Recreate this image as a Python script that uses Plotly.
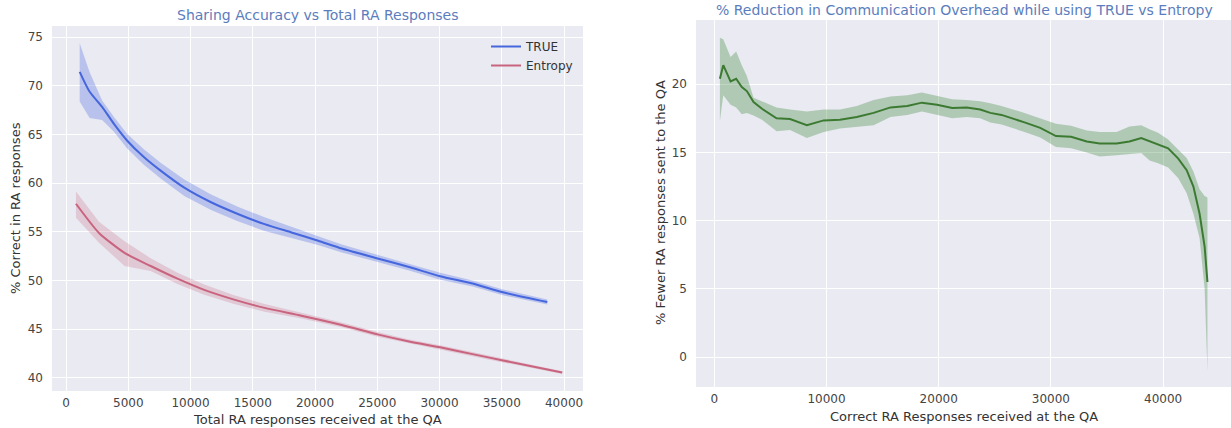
import plotly.graph_objects as go

# ---------------- Left chart data ----------------
true_x = [1100, 1900, 2900, 3850, 4900, 6250, 7600, 9500, 11650, 13800, 15950, 18100,
          20250, 22150, 25100, 27550, 30050, 32650, 35100, 38650]
true_mean = [71.45, 69.4, 67.85, 66.1, 64.4, 62.7, 61.3, 59.55, 58.05, 56.85, 55.8, 54.95,
             54.1, 53.3, 52.25, 51.4, 50.45, 49.7, 48.8, 47.8]
true_upper = [74.4, 71.4, 68.5, 66.8, 65.1, 63.5, 62.1, 60.4, 58.85, 57.6, 56.5, 55.5,
              54.55, 53.7, 52.6, 51.75, 50.8, 50.0, 49.1, 48.05]
true_lower = [68.4, 66.7, 66.5, 65.3, 63.6, 61.9, 60.5, 58.7, 57.25, 56.1, 55.1, 54.4,
              53.65, 52.9, 51.9, 51.05, 50.1, 49.4, 48.5, 47.55]

ent_x = [800, 2650, 4700, 6800, 8950, 11100, 13500, 15950, 18900, 22150, 25100, 27550,
         30050, 32650, 35100, 39850]
ent_mean = [57.9, 54.9, 52.85, 51.5, 50.2, 49.05, 48.05, 47.2, 46.4, 45.45, 44.45, 43.75,
            43.15, 42.45, 41.8, 40.55]
ent_upper = [59.15, 56.05, 54.05, 52.3, 50.8, 49.6, 48.5, 47.6, 46.7, 45.7, 44.7, 43.95,
             43.35, 42.65, 41.95, 40.7]
ent_lower = [56.45, 53.9, 51.5, 51.0, 49.65, 48.55, 47.6, 46.8, 46.1, 45.2, 44.2, 43.55,
             42.95, 42.25, 41.6, 40.4]

left_xticks = [0, 5000, 10000, 15000, 20000, 25000, 30000, 35000, 40000]
left_yticks = [40, 45, 50, 55, 60, 65, 70, 75]

# ---------------- Right chart data ----------------
red_x = [500, 800, 1450, 1950, 2450, 2900, 3500, 4250, 5550, 6750, 8250, 9750, 11200,
         12700, 14200, 15700, 17200, 18500, 19850, 21200, 22500, 23700, 24600, 25600,
         27650, 29050, 30450, 31800, 33200, 34350, 35850, 37000, 38050, 38800, 39550,
         40450, 41350, 42100, 42700, 43250, 43700, 43950]
red_mean = [20.4, 21.4, 20.2, 20.4, 19.8, 19.5, 18.7, 18.2, 17.5, 17.45, 17.0, 17.35, 17.4,
            17.6, 17.9, 18.3, 18.4, 18.65, 18.5, 18.25, 18.3, 18.15, 17.9, 17.75,
            17.2, 16.8, 16.2, 16.15, 15.8, 15.65, 15.65, 15.8, 16.05, 15.8, 15.55,
            15.3, 14.55, 13.7, 12.5, 10.5, 8.1, 5.5]
red_upper = [23.4, 23.3, 22.0, 22.4, 21.4, 20.6, 19.0, 18.75, 18.3, 18.15, 18.0, 18.15, 18.15,
             18.4, 18.85, 19.1, 19.2, 19.4, 19.15, 18.9, 18.85, 18.75, 18.6, 18.4,
             17.9, 17.5, 17.1, 16.95, 16.6, 16.5, 16.5, 16.9, 17.0, 16.7, 16.45,
             15.95, 15.2, 14.6, 13.6, 12.3, 11.8, 11.7]
red_lower = [17.3, 19.2, 18.5, 18.3, 17.8, 17.9, 17.7, 17.4, 16.55, 16.65, 16.05, 16.5, 16.75,
             16.9, 17.0, 17.6, 17.75, 18.0, 17.75, 17.5, 17.6, 17.5, 17.2, 17.05,
             16.5, 16.1, 15.4, 15.3, 15.0, 14.7, 14.8, 14.9, 14.95, 14.4, 14.2,
             13.9, 13.1, 12.0, 10.5, 8.7, 5.0, -1.0]

right_xticks = [0, 10000, 20000, 30000, 40000]
right_yticks = [0, 5, 10, 15, 20]

# ---------------- Styling ----------------
W, H = 1231, 428
BG = "#eaeaf2"
FONT = "DejaVu Sans"
TXT = "#333333"
TITLE_C = "#5b7dbd"
BLUE = "#4566dd"
BLUE_F = "rgba(69,102,221,0.30)"
RED = "#c9647f"
RED_F = "rgba(201,100,127,0.25)"
GREEN = "#3c7a32"
GREEN_F = "rgba(70,140,70,0.35)"


def px_x(p):
    return p / W


def px_y(p):
    return 1 - p / H


fig = go.Figure()


def band(x, lo, hi, fill, xa, ya):
    fig.add_trace(go.Scatter(x=x, y=lo, mode="lines", line=dict(width=0),
                             showlegend=False, hoverinfo="skip", xaxis=xa, yaxis=ya))
    fig.add_trace(go.Scatter(x=x, y=hi, mode="lines", line=dict(width=0),
                             fill="tonexty", fillcolor=fill,
                             showlegend=False, hoverinfo="skip", xaxis=xa, yaxis=ya))


band(true_x, true_lower, true_upper, BLUE_F, "x", "y")
fig.add_trace(go.Scatter(x=true_x, y=true_mean, mode="lines", name="TRUE",
                         line=dict(color=BLUE, width=2, shape="spline", smoothing=0.6),
                         xaxis="x", yaxis="y"))
band(ent_x, ent_lower, ent_upper, RED_F, "x", "y")
fig.add_trace(go.Scatter(x=ent_x, y=ent_mean, mode="lines", name="Entropy",
                         line=dict(color=RED, width=2, shape="spline", smoothing=0.6),
                         xaxis="x", yaxis="y"))

band(red_x, red_lower, red_upper, GREEN_F, "x2", "y2")
fig.add_trace(go.Scatter(x=red_x, y=red_mean, mode="lines", showlegend=False,
                         line=dict(color=GREEN, width=2), xaxis="x2", yaxis="y2"))

TICKFONT = dict(family=FONT, size=12, color="#444444")
axis_common = dict(showgrid=True, gridcolor="white", gridwidth=1, zeroline=False,
                   showline=False, ticks="", tickfont=TICKFONT)

fig.update_layout(
    width=W, height=H,
    margin=dict(l=0, r=0, t=0, b=0),
    paper_bgcolor="white",
    plot_bgcolor=BG,
    font=dict(family=FONT, color=TXT),
    xaxis=dict(domain=[px_x(52), px_x(583)], range=[-1124, 41520], tickvals=left_xticks,
               ticktext=[str(v) for v in left_xticks],
               anchor="y", ticklabelstandoff=3, **axis_common),
    yaxis=dict(domain=[px_y(391), px_y(26)], range=[38.66, 76.16], tickvals=left_yticks,
               ticktext=[str(v) for v in left_yticks],
               anchor="x", ticklabelstandoff=8, **axis_common),
    xaxis2=dict(domain=[px_x(696), 1.0], range=[-1630, 46050], tickvals=right_xticks,
                ticktext=[str(v) for v in right_xticks],
                anchor="y2", ticklabelstandoff=3, **axis_common),
    yaxis2=dict(domain=[px_y(387), px_y(20)], range=[-2.2, 24.71], tickvals=right_yticks,
                ticktext=[str(v) for v in right_yticks],
                anchor="x2", ticklabelstandoff=8, **axis_common),
    legend=dict(x=px_x(486), y=px_y(32), xanchor="left", yanchor="top",
                bgcolor="rgba(0,0,0,0)", font=dict(family=FONT, size=12, color=TXT),
                itemwidth=30, tracegroupgap=0, traceorder="normal"),
    showlegend=True,
)

annotations = [
    dict(text="Sharing Accuracy vs Total RA Responses", x=px_x(317), y=px_y(15),
         font=dict(size=14, color=TITLE_C)),
    dict(text="% Reduction in Communication Overhead while using TRUE vs Entropy",
         x=px_x(964), y=px_y(10), font=dict(size=14, color=TITLE_C)),
    dict(text="Total RA responses received at the QA", x=px_x(317), y=px_y(419),
         font=dict(size=13, color=TXT)),
    dict(text="Correct RA Responses received at the QA", x=px_x(964), y=px_y(416),
         font=dict(size=13, color=TXT)),
    dict(text="% Correct in RA responses", x=px_x(15), y=px_y(208), textangle=-90,
         font=dict(size=13, color=TXT)),
    dict(text="% Fewer RA responses sent to the QA", x=px_x(660), y=px_y(203), textangle=-90,
         font=dict(size=13, color=TXT)),
]
for a in annotations:
    a.update(xref="paper", yref="paper", showarrow=False, xanchor="center", yanchor="middle")
    a["font"]["family"] = FONT
fig.update_layout(annotations=annotations)

fig.write_html("out.html")
